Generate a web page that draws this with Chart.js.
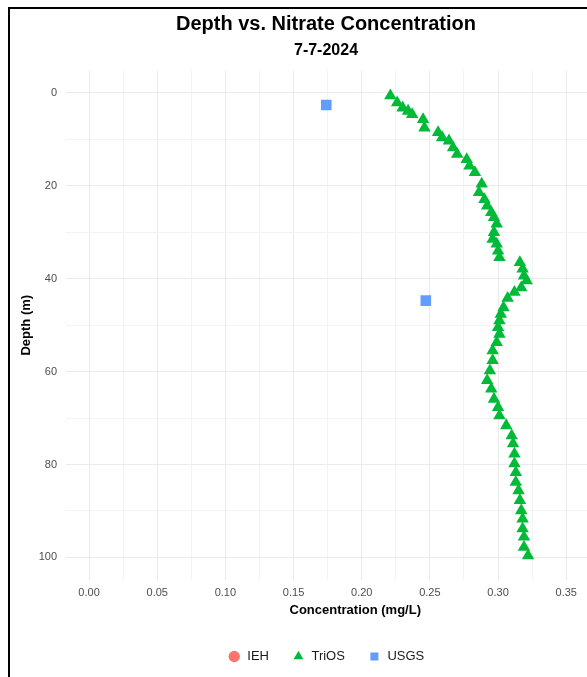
<!DOCTYPE html>
<html>
<head>
<meta charset="utf-8">
<title>Depth vs. Nitrate Concentration</title>
<script src="https://cdn.jsdelivr.net/npm/chart.js@4"></script>
<style>
html, body { margin: 0; padding: 0; background: #fff; overflow: hidden; }
#wrap { position: relative; width: 587px; height: 677px; overflow: hidden; }
#holder { position: absolute; left: 0; top: 0; width: 652px; height: 677px; }
#frame { position: absolute; left: 8px; top: 7px; width: 700px; height: 700px; border-left: 2px solid #000; border-top: 2px solid #000; pointer-events: none; }
</style>
</head>
<body>
<div id="wrap">
  <div id="holder"><canvas id="depth-chart" width="652" height="677"></canvas></div>
  <div id="frame"></div>
</div>
<script>
// TriOS profile
var triosConc = [0.221, 0.226, 0.230, 0.234, 0.237, 0.245, 0.246, 0.256, 0.259, 0.264, 0.267, 0.270, 0.277, 0.279, 0.283,
    0.288, 0.286, 0.290, 0.292, 0.295, 0.297, 0.299, 0.297, 0.296, 0.299, 0.300, 0.301, 0.316, 0.318, 0.319, 0.321, 0.317, 0.312,
    0.307, 0.304, 0.302, 0.301, 0.300, 0.301, 0.299, 0.296, 0.296, 0.294, 0.292, 0.295, 0.297, 0.300,
    0.301, 0.306, 0.310, 0.311, 0.312, 0.312, 0.313, 0.313, 0.315, 0.316, 0.317, 0.318, 0.318, 0.319, 0.319, 0.322];
var triosDepth = [0.6, 2.1, 3.2, 3.9, 4.6, 5.7, 7.5, 8.5, 9.6, 10.3, 11.8, 13.2, 14.3, 15.7, 17.1,
    19.6, 21.4, 22.9, 24.3, 25.7, 26.8, 28.2, 30.0, 31.5, 32.5, 34.0, 35.4, 36.5, 37.9, 39.4, 40.4, 41.9, 42.9,
    44.2, 46.2, 47.6, 49.0, 50.5, 51.9, 53.7, 55.5, 57.6, 59.8, 61.9, 63.7, 65.9, 67.7,
    69.5, 71.6, 73.8, 75.5, 77.7, 79.8, 81.7, 83.8, 85.6, 87.7, 89.9, 91.7, 93.8, 95.6, 97.8, 99.6];

var usgsConc = [0.174, 0.247];
var usgsDepth = [2.6, 44.7];

// IEH is in the legend but has no points on this date
var iehConc = [];
var iehDepth = [];

var xTickLabels = ["0.00", "0.05", "0.10", "0.15", "0.20", "0.25", "0.30", "0.35"];
var yTickLabels = ["0", "20", "40", "60", "80", "100"];

function toPoints(xs, ys) {
    return xs.map(function (v, i) { return { x: v, y: ys[i] }; });
}
function isMajor(v, step) {
    return Math.abs(Math.round(v / step) * step - v) < 1e-6;
}

Chart.defaults.font.family = "'Liberation Sans', Arial, sans-serif";

var ctx = document.getElementById('depth-chart').getContext('2d');

var data = {
    datasets: [{
        label: "IEH",
        data: toPoints(iehConc, iehDepth),
        pointStyle: 'circle',
        backgroundColor: '#F8766D',
        borderColor: '#F8766D',
        borderWidth: 0,
        pointRadius: 5
    }, {
        label: "TriOS",
        data: toPoints(triosConc, triosDepth),
        pointStyle: 'triangle',
        backgroundColor: '#00BA38',
        borderColor: '#00BA38',
        borderWidth: 0,
        pointRadius: 7.2
    }, {
        label: "USGS",
        data: toPoints(usgsConc, usgsDepth),
        pointStyle: 'rect',
        backgroundColor: '#619CFF',
        borderColor: '#619CFF',
        borderWidth: 0,
        pointRadius: 7.5
    }]
};

var options = {
    responsive: false,
    animation: false,
    events: [],
    layout: { padding: { left: 0, right: 0, top: 0, bottom: 4 } },
    plugins: {
        title: {
            display: true,
            text: 'Depth vs. Nitrate Concentration',
            color: '#000',
            font: { size: 20, weight: 'bold' },
            padding: { top: 12, bottom: 3 }
        },
        subtitle: {
            display: true,
            text: '7-7-2024',
            color: '#000',
            font: { size: 16, weight: 'bold' },
            padding: { top: 2, bottom: 10 }
        },
        legend: {
            display: true,
            position: 'bottom',
            labels: {
                usePointStyle: true,
                boxHeight: 8,
                color: '#1a1a1a',
                font: { size: 13 },
                padding: 23
            }
        },
        tooltip: { enabled: false }
    },
    scales: {
        x: {
            type: 'linear',
            min: -0.0169,
            max: 0.4074,
            border: { display: false },
            grid: {
                drawTicks: false,
                lineWidth: 1,
                color: function (c) { return isMajor(c.tick.value, 0.05) ? '#ebebeb' : '#f3f3f3'; }
            },
            ticks: {
                stepSize: 0.025,
                includeBounds: false,
                autoSkip: false,
                maxRotation: 0,
                padding: 6,
                color: '#4d4d4d',
                font: { size: 11 },
                callback: function (v) {
                    if (!isMajor(v, 0.05)) return '';
                    var k = Math.round(v / 0.05);
                    return k < xTickLabels.length ? xTickLabels[k] : '';
                }
            },
            title: {
                display: true,
                text: 'Concentration (mg/L)',
                color: '#000',
                font: { size: 13, weight: 'bold' },
                padding: { top: -3, bottom: 9 }
            }
        },
        y: {
            type: 'linear',
            reverse: true,
            min: -4.9,
            max: 104.9,
            border: { display: false },
            grid: {
                drawTicks: false,
                lineWidth: 1,
                color: function (c) { return isMajor(c.tick.value, 20) ? '#ebebeb' : '#f3f3f3'; }
            },
            ticks: {
                stepSize: 10,
                includeBounds: false,
                autoSkip: false,
                padding: 9,
                color: '#4d4d4d',
                font: { size: 11 },
                callback: function (v) {
                    if (!isMajor(v, 20)) return '';
                    return yTickLabels[Math.round(v / 20)];
                }
            },
            title: {
                display: true,
                text: 'Depth (m)',
                color: '#000',
                font: { size: 13, weight: 'bold' },
                padding: { top: 19, bottom: 0 }
            },
            afterFit: function (scale) { scale.width = 66; }
        }
    }
};

var depthChart = new Chart(ctx, {
    type: 'scatter',
    data: data,
    options: options
});
</script>
</body>
</html>
